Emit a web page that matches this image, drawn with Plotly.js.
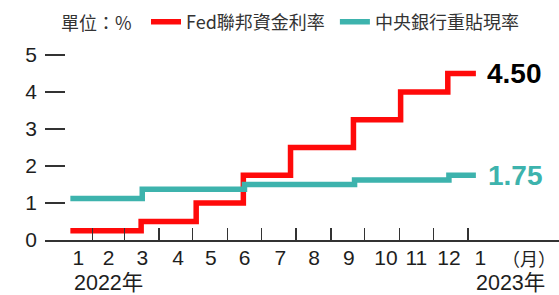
<!DOCTYPE html>
<html><head><meta charset="utf-8">
<script src="https://cdn.plot.ly/plotly-3.0.1.min.js"></script>
<style>html,body{margin:0;padding:0;background:#fff;} #chart{width:559px;height:295px;}</style>
</head><body><div id="chart"></div>
<script>
// ---- data ----
const fedDates = ["2022-01-12","2022-03-16","2022-05-04","2022-06-15","2022-07-27","2022-09-21","2022-11-02","2022-12-14","2023-01-08"];
const fedRates = [0.25, 0.5, 1.0, 1.75, 2.5, 3.25, 4.0, 4.5, 4.5];
const cbcDates = ["2022-01-12","2022-03-17","2022-06-16","2022-09-22","2022-12-15","2023-01-08"];
const cbcRates = [1.125, 1.375, 1.5, 1.625, 1.75, 1.75];
const seriesNames = ["Fed聯邦資金利率", "中央銀行重貼現率"];
const monthBoundaries = ["2022-02-01","2022-03-01","2022-04-01","2022-05-01","2022-06-01","2022-07-01","2022-08-01","2022-09-01","2022-10-01","2022-11-01","2022-12-01","2023-01-01"];
const monthLabelDates = ["2022-01-19","2022-02-15","2022-03-17","2022-04-18","2022-05-17","2022-06-16","2022-07-18","2022-08-17","2022-09-17","2022-10-20","2022-11-16","2022-12-15","2023-01-12"];
const monthLabels = ["1","2","3","4","5","6","7","8","9","10","11","12","1"];
const yearLabelDates = ["2022-01-19","2023-01-12"];
const yearLabels = ["2022年","2023年"];
const yTicks = [0, 1, 2, 3, 4, 5];
const unitLabel = "單位：%";
const monthUnit = "（月）";

// ---- style ----
const RED = "#ff0a0a", TEAL = "#3db3ad", INK = "#1e1e1e";
const NUM = "Liberation Sans, Arial, sans-serif";
const CJK = "Noto Sans CJK TC, Liberation Sans, sans-serif";
const NUMCJK = "Liberation Sans, Noto Sans CJK TC, sans-serif";
const xRange = ["2021-12-20 10:00", "2023-03-23"];

const traces = [
  {x: fedDates, y: fedRates, name: seriesNames[0], type: "scatter", mode: "lines",
   line: {shape: "hv", color: RED, width: 5.5}, legend: "legend", hoverinfo: "skip"},
  {x: cbcDates, y: cbcRates, name: seriesNames[1], type: "scatter", mode: "lines",
   line: {shape: "hv", color: TEAL, width: 5.5}, legend: "legend2", hoverinfo: "skip"}
];

const annotations = [
  {xref: "x", yref: "y", x: fedDates[fedDates.length-1], y: fedRates[fedRates.length-1],
   text: "<b>" + fedRates[fedRates.length-1].toFixed(2) + "</b>", showarrow: false,
   xanchor: "left", yanchor: "middle", xshift: 9, font: {family: NUM, size: 28, color: "#000"}},
  {xref: "x", yref: "y", x: cbcDates[cbcDates.length-1], y: cbcRates[cbcRates.length-1],
   text: "<b>" + cbcRates[cbcRates.length-1].toFixed(2) + "</b>", showarrow: false,
   xanchor: "left", yanchor: "middle", xshift: 10, font: {family: NUM, size: 28, color: TEAL}},
  {xref: "paper", yref: "paper", x: 0.027, y: 1.112, text: unitLabel, showarrow: false,
   xanchor: "left", yanchor: "middle", font: {family: CJK, size: 18, color: "#333"}},
  {xref: "paper", yref: "paper", x: 0.998, y: -0.092, text: monthUnit, showarrow: false,
   xanchor: "right", yanchor: "middle", font: {family: CJK, size: 18, color: INK}}
];
yearLabels.forEach((t, i) => annotations.push({
  xref: "x", yref: "paper", x: yearLabelDates[i], y: -0.219, text: t, showarrow: false,
  height: 22, valign: "middle",
  xanchor: "left", yanchor: "middle", xshift: -6, font: {family: NUMCJK, size: 21.5, color: INK}
}));

const layout = {
  width: 559, height: 295,
  margin: {l: 45, r: 0, t: 44, b: 55, pad: 0},
  paper_bgcolor: "#fff", plot_bgcolor: "#fff",
  showlegend: true,
  xaxis: {type: "date", range: xRange, showgrid: false, zeroline: false,
          showline: true, linecolor: "#333", linewidth: 1.5,
          ticks: "", tickmode: "array", tickvals: monthLabelDates, ticktext: monthLabels,
          tickfont: {family: NUM, size: 21, color: INK}, ticklabelstandoff: -2,
          minor: {tickmode: "array", tickvals: monthBoundaries, ticks: "inside",
                  ticklen: 12, tickwidth: 1.3, tickcolor: "#333", showgrid: false},
          fixedrange: true},
  yaxis: {range: [0, 196/37], showgrid: false, zeroline: false, showline: false,
          ticks: "inside", ticklen: 20, tickwidth: 1.3, tickcolor: "#333",
          tickmode: "array", tickvals: yTicks, ticktext: yTicks.map(String),
          tickfont: {family: NUM, size: 21, color: INK}, ticklabelstandoff: 7, fixedrange: true},
  legend: {orientation: "h", x: 0.1965, xanchor: "left", y: 1.112, yanchor: "middle",
           bgcolor: "rgba(0,0,0,0)", font: {family: CJK, size: 18, color: "#333"}},
  legend2: {orientation: "h", x: 0.564, xanchor: "left", y: 1.112, yanchor: "middle",
           bgcolor: "rgba(0,0,0,0)", font: {family: CJK, size: 18, color: "#333"}},
  annotations: annotations
};

Plotly.newPlot("chart", traces, layout, {displayModeBar: false, staticPlot: true});
</script>
</body></html>
